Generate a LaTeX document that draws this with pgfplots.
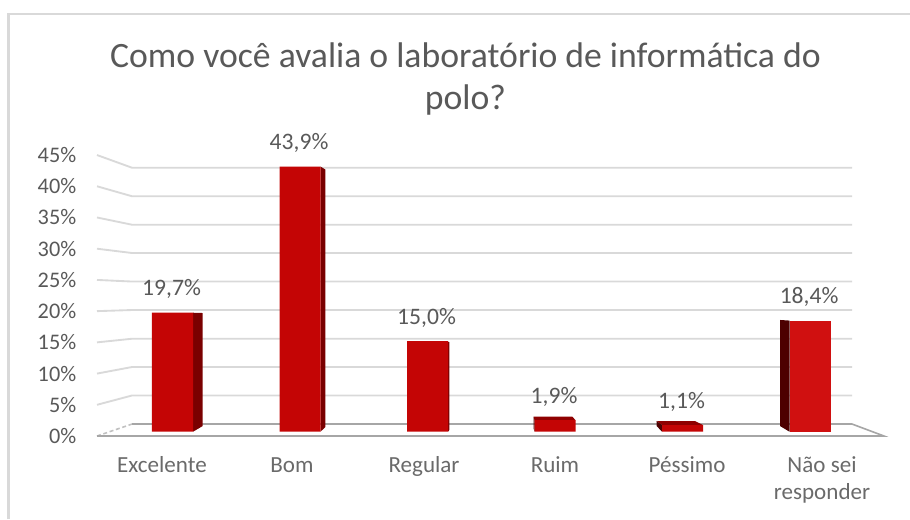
\documentclass[border=0pt]{standalone}
\usepackage{pgfplots}
\pgfplotsset{compat=1.18}
\usepackage{fontspec}
\setmainfont{Carlito}
\definecolor{txt}{HTML}{595959}
\definecolor{wall}{HTML}{D9D9D9}
\definecolor{floorc}{HTML}{A6A6A6}
\definecolor{frontc}{HTML}{C40505}
\definecolor{frontb}{HTML}{D01010}
\definecolor{sidec}{HTML}{7A0000}
\definecolor{sided}{HTML}{4D0000}
\definecolor{topc}{HTML}{8F0000}
\begin{document}
\begin{tikzpicture}
\path[use as bounding box] (0,0) rectangle (682.5pt,389.25pt);
% wall axis: x in picture units, y = the wall's percent scale
\begin{axis}[
  at={(0,0)}, anchor=south west, scale only axis,
  width=682.5pt, height=389.25pt,
  xmin=0, xmax=910, ymin=-13.29, ymax=69.83,
  axis line style={draw=none}, tick style={draw=none},
  xtick={162,292,424,555,687,822},
  xticklabels={\strut Excelente,\strut Bom,\strut Regular,\strut Ruim,\strut Péssimo,{\strut Não sei\\\strut responder}},
  xticklabel style={align=center, anchor=north, yshift=52pt, font=\fontsize{17.3}{19.8}\selectfont, text=txt!90!white},
  ytick={0,5,10,15,20,25,30,35,40,45},
  yticklabels={0\%,5\%,10\%,15\%,20\%,25\%,30\%,35\%,40\%,45\%},
  yticklabel style={anchor=east, xshift=60.7pt, yshift=0pt, font=\fontsize{16.7}{20}\selectfont, text=txt},
  title={Como você avalia o laboratório de informática do\\polo?},
  title style={at={(0.5115,0.8325)}, anchor=center, align=center, font=\fontsize{26.75}{31.5}\selectfont, text=txt},
]
\addplot[wall, line width=1.6pt] coordinates {(8.5,-13.29) (8.5,67.58) (910,67.58)};
\addplot[wall, line width=1.4pt] coordinates {(97,45) (132,42.97) (852,42.97)};
\addplot[wall, line width=1.4pt] coordinates {(97,40) (132,38.40) (852,38.40)};
\addplot[wall, line width=1.4pt] coordinates {(97,35) (132,33.84) (852,33.84)};
\addplot[wall, line width=1.4pt] coordinates {(97,30) (132,29.31) (852,29.31)};
\addplot[wall, line width=1.4pt] coordinates {(97,25) (132,24.74) (852,24.74)};
\addplot[wall, line width=1.4pt] coordinates {(97,20) (132,20.18) (852,20.18)};
\addplot[wall, line width=1.4pt] coordinates {(97,15) (132,15.58) (852,15.58)};
\addplot[wall, line width=1.4pt] coordinates {(97,10) (132,11.05) (852,11.05)};
\addplot[wall, line width=1.4pt] coordinates {(97,5) (132,6.49) (852,6.49)};
\addplot[floorc!70!white, line width=1.2pt, densely dashed] coordinates {(97,0) (132,1.92)};
\addplot[floorc, line width=1.2pt] coordinates {(132,1.92) (852,1.92) (884,0) (97,0)};
\end{axis}
% bar axis: x = category number, y = percent
\begin{axis}[
  at={(0,0)}, anchor=south west, scale only axis, hide axis,
  width=682.5pt, height=389.25pt,
  xmin=-1.3529, xmax=5.7843, ymin=-14.45, ymax=71.47,
  /pgf/number format/.cd, use comma, fixed, fixed zerofill, precision=1, assume math mode=true, /tikz/.cd,
]
\addplot[sidec, fill=sidec, draw=none] coordinates {(0.1608,19.7) (0.2369,19.65) (0.2369,0.94) (0.1608,0)};
\addplot[sidec, fill=sidec, draw=none] coordinates {(1.1608,43.9) (1.1984,43.41) (1.1984,0.78) (1.1608,0)};
\addplot[sidec, fill=sidec, draw=none] coordinates {(2.1608,14.9) (2.172,14.8) (2.172,0.3) (2.1608,0)};
\addplot[topc, fill=topc, draw=none] coordinates {(2.8314,2.48) (3.137,2.48) (3.1608,1.9) (2.8392,1.9)};
\addplot[sided, fill=sided, draw=none] coordinates {(2.8314,2.48) (2.8392,1.9) (2.8392,0) (2.8314,0.6)};
\addplot[topc, fill=topc, draw=none] coordinates {(3.7976,1.77) (4.098,1.77) (4.1608,1.1) (3.8392,1.1)};
\addplot[sided, fill=sided, draw=none] coordinates {(3.7976,1.77) (3.8392,1.1) (3.8392,0) (3.7976,0.94)};
\addplot[sided, fill=sided, draw=none] coordinates {(4.7647,18.5) (4.8392,18.4) (4.8392,0) (4.7647,0.94)};
\addplot[ybar, bar width=30.75pt, bar shift=0pt, fill=frontc, draw=none,
  nodes near coords={\pgfmathprintnumber{\pgfplotspointmeta}\%},
  every node near coord/.style={anchor=south, yshift=7pt, xshift=-0.7pt, font=\fontsize{17.7}{20}\selectfont, text=txt}]
  coordinates {(0,19.7) (1,43.9) (2,15.0) (3,1.9) (4,1.1)};
\addplot[ybar, bar width=30.75pt, bar shift=0pt, fill=frontb, draw=none,
  nodes near coords={\pgfmathprintnumber{\pgfplotspointmeta}\%},
  every node near coord/.style={anchor=south, yshift=7pt, xshift=-0.7pt, font=\fontsize{17.7}{20}\selectfont, text=txt}]
  coordinates {(5,18.4)};
\end{axis}
\end{tikzpicture}
\end{document}
